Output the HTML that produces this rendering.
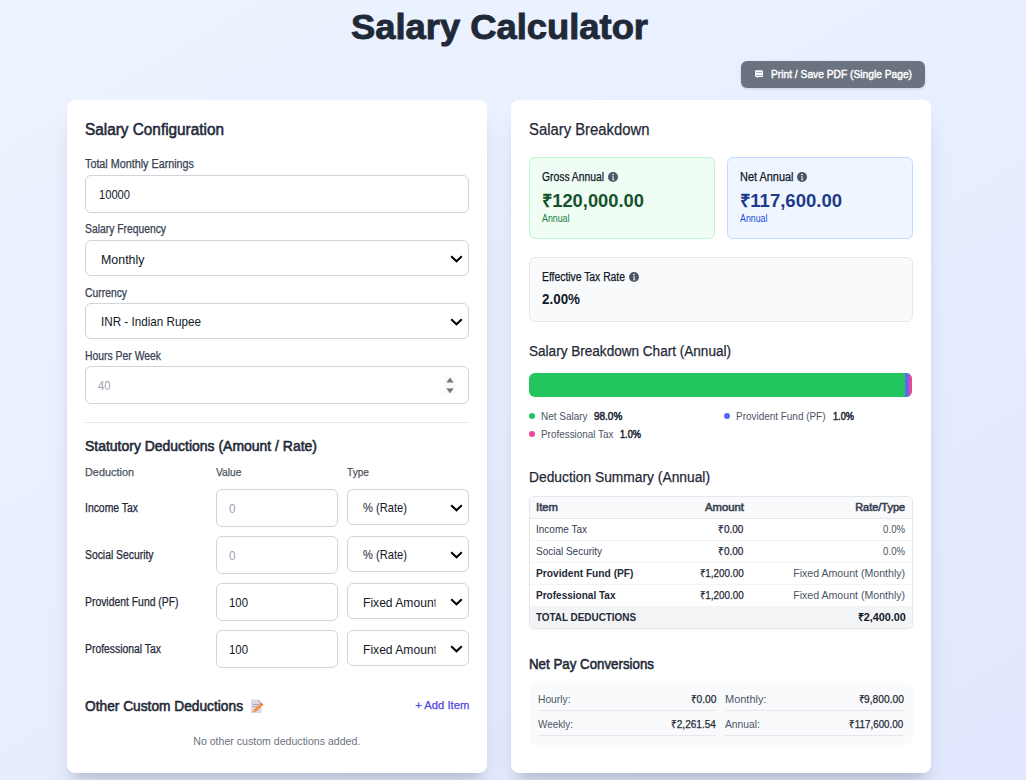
<!DOCTYPE html>
<html><head><meta charset="utf-8"><title>Salary Calculator</title>
<style>
*{box-sizing:border-box;margin:0;padding:0}
html,body{width:1026px;height:780px;overflow:hidden}
body{position:relative;background:linear-gradient(150deg,#edf4ff 0%,#e1e8ff 100%);font-family:"Liberation Sans",sans-serif}
.t{position:absolute;white-space:nowrap;font-family:"Liberation Sans",sans-serif}
.b{position:absolute}
.card{position:absolute;background:#fff;border-radius:8px;box-shadow:0 20px 25px -5px rgba(0,0,0,.12),0 8px 10px -6px rgba(0,0,0,.12)}
.inp{position:absolute;background:#fff;border:1px solid #d1d5db;border-radius:6px}
.chev{position:absolute;width:13px;height:8px}
.line{position:absolute;height:1px;background:#e5e7eb}
.info{position:absolute;width:10px;height:10px;border-radius:50%;background:#4b5563}
.info:before{content:"";position:absolute;left:4px;top:2px;width:2px;height:1.5px;background:#fff}
.info:after{content:"";position:absolute;left:4px;top:4.2px;width:2px;height:4px;background:#fff}
.dot{position:absolute;width:6px;height:6px;border-radius:50%}
</style></head><body>
<!-- button -->
<div class="b" style="left:741px;top:61px;width:184px;height:27px;background:#6b7280;border-radius:6px;box-shadow:0 1px 3px rgba(0,0,0,.12)"></div>
<svg class="b" style="left:754px;top:69px" width="10" height="10" viewBox="0 0 10 10"><rect x="1" y="1.2" width="8" height="6.8" rx="1.2" fill="#fff"/><rect x="1.8" y="3.1" width="6.4" height="0.8" fill="#9ca3af"/><rect x="1.8" y="5.9" width="6.4" height="0.9" fill="#9ca3af"/><path d="M2.6 8 L3.6 9.3 L4.2 8 Z" fill="#fff"/></svg>

<!-- cards -->
<div class="card" style="left:67px;top:100px;width:420px;height:673px"></div>
<div class="card" style="left:511px;top:100px;width:420px;height:673px"></div>

<!-- left card inputs -->
<div class="inp" style="left:85px;top:175px;width:384px;height:38px"></div>
<div class="inp" style="left:85px;top:240px;width:384px;height:36px"></div>
<div class="inp" style="left:85px;top:303px;width:384px;height:36px"></div>
<div class="inp" style="left:85px;top:366px;width:384px;height:38px"></div>
<svg class="chev" style="left:450px;top:255px" viewBox="0 0 13 8"><path d="M1.2 1.2 L6.5 6.3 L11.8 1.2" fill="none" stroke="#000" stroke-width="2"/></svg>
<svg class="chev" style="left:450px;top:318px" viewBox="0 0 13 8"><path d="M1.2 1.2 L6.5 6.3 L11.8 1.2" fill="none" stroke="#000" stroke-width="2"/></svg>
<div class="b" style="left:444px;top:376px;width:12px;height:18px;background:#fafafa"></div><svg class="b" style="left:446px;top:377px" width="8" height="17" viewBox="0 0 8 17"><path d="M0.8 5.3 L4 0.9 L7.2 5.3 Z" fill="#767676" stroke="#767676" stroke-width="0.5" stroke-linejoin="round"/><path d="M0.8 11.7 L4 16.1 L7.2 11.7 Z" fill="#767676" stroke="#767676" stroke-width="0.5" stroke-linejoin="round"/></svg>
<div class="line" style="left:85px;top:422px;width:384px"></div>

<!-- deduction rows -->
<div class="inp" style="left:216px;top:489px;width:122px;height:38px"></div>
<div class="inp" style="left:347px;top:489px;width:122px;height:36px"></div>
<div class="inp" style="left:216px;top:536px;width:122px;height:38px"></div>
<div class="inp" style="left:347px;top:536px;width:122px;height:36px"></div>
<div class="inp" style="left:216px;top:583px;width:122px;height:38px"></div>
<div class="inp" style="left:347px;top:583px;width:122px;height:36px"></div>
<div class="inp" style="left:216px;top:630px;width:122px;height:38px"></div>
<div class="inp" style="left:347px;top:630px;width:122px;height:36px"></div>
<svg class="chev" style="left:450px;top:504px" viewBox="0 0 13 8"><path d="M1.2 1.2 L6.5 6.3 L11.8 1.2" fill="none" stroke="#000" stroke-width="2"/></svg>
<svg class="chev" style="left:450px;top:551px" viewBox="0 0 13 8"><path d="M1.2 1.2 L6.5 6.3 L11.8 1.2" fill="none" stroke="#000" stroke-width="2"/></svg>
<svg class="chev" style="left:450px;top:598px" viewBox="0 0 13 8"><path d="M1.2 1.2 L6.5 6.3 L11.8 1.2" fill="none" stroke="#000" stroke-width="2"/></svg>
<svg class="chev" style="left:450px;top:645px" viewBox="0 0 13 8"><path d="M1.2 1.2 L6.5 6.3 L11.8 1.2" fill="none" stroke="#000" stroke-width="2"/></svg>

<!-- emoji memo -->
<svg class="b" style="left:250px;top:698px" width="14" height="16" viewBox="0 0 14 16">
<path d="M1 1.5 H8.5 L11.5 4.5 V15 H1 Z" fill="#dcd6e6"/>
<path d="M8.5 1.5 L11.5 4.5 H8.5 Z" fill="#b8b0c8"/>
<rect x="2.8" y="6" width="6" height="0.9" fill="#a8a2b6"/><rect x="2.8" y="8.2" width="5" height="0.9" fill="#a8a2b6"/>
<path d="M3 14.5 L4 11.6 L10.2 5.8 L12.3 7.8 L6 13.6 Z" fill="#f7913d"/>
<path d="M10.2 5.8 L11.3 4.8 L13.3 6.8 L12.3 7.8 Z" fill="#f2504b"/>
</svg>

<!-- right card: stat boxes -->
<div class="b" style="left:529px;top:157px;width:186px;height:82px;background:#f0fdf4;border:1px solid #bbf7d0;border-radius:6px"></div>
<div class="b" style="left:727px;top:157px;width:186px;height:82px;background:#eff6ff;border:1px solid #bfdbfe;border-radius:6px"></div>
<div class="b" style="left:529px;top:257px;width:384px;height:65px;background:#f9fafb;border:1px solid #e5e7eb;border-radius:6px"></div>
<svg class="b" style="left:608px;top:172px" width="10" height="10" viewBox="0 0 10 10"><circle cx="5" cy="5" r="5" fill="#4b5563"/><rect x="4.2" y="1.9" width="1.6" height="1.3" fill="#fff"/><path d="M4.2 4.3 H5.6 V7.4 H6.2 V8.3 H4.2 V7.4 H4.6 V5.1 H4.2 Z" fill="#fff"/></svg>
<svg class="b" style="left:797px;top:172px" width="10" height="10" viewBox="0 0 10 10"><circle cx="5" cy="5" r="5" fill="#4b5563"/><rect x="4.2" y="1.9" width="1.6" height="1.3" fill="#fff"/><path d="M4.2 4.3 H5.6 V7.4 H6.2 V8.3 H4.2 V7.4 H4.6 V5.1 H4.2 Z" fill="#fff"/></svg>
<svg class="b" style="left:629px;top:272px" width="10" height="10" viewBox="0 0 10 10"><circle cx="5" cy="5" r="5" fill="#4b5563"/><rect x="4.2" y="1.9" width="1.6" height="1.3" fill="#fff"/><path d="M4.2 4.3 H5.6 V7.4 H6.2 V8.3 H4.2 V7.4 H4.6 V5.1 H4.2 Z" fill="#fff"/></svg>

<!-- bar -->
<div class="b" style="left:529px;top:373px;width:383px;height:24px;border-radius:6px;overflow:hidden;background:#22c55e">
  <div class="b" style="left:376px;top:0;width:4px;height:24px;background:#6366f1"></div>
  <div class="b" style="left:380px;top:0;width:3px;height:24px;background:#ec4899"></div>
</div>
<div class="dot" style="left:529px;top:413px;background:#22c55e"></div>
<div class="dot" style="left:724px;top:413px;background:#6366f1"></div>
<div class="dot" style="left:529px;top:431px;background:#ec4899"></div>

<!-- table -->
<div class="b" style="left:529px;top:496px;width:384px;height:133px;border:1px solid #e5e7eb;border-radius:5px;overflow:hidden;background:#fff;box-shadow:0 1px 2px rgba(0,0,0,.04)">
  <div class="b" style="left:0;top:0;width:382px;height:21px;background:#f9fafb"></div>
  <div class="b" style="left:0;top:21px;width:382px;height:1px;background:#e5e7eb"></div>
  <div class="b" style="left:0;top:43px;width:382px;height:1px;background:#f3f4f6"></div>
  <div class="b" style="left:0;top:65px;width:382px;height:1px;background:#f3f4f6"></div>
  <div class="b" style="left:0;top:87px;width:382px;height:1px;background:#f3f4f6"></div>
  <div class="b" style="left:0;top:109px;width:382px;height:23px;background:#f3f4f6"></div>
</div>

<!-- conversions -->
<div class="b" style="left:529px;top:683px;width:384px;height:62px;background:#f9fafb;border-radius:7px"></div>
<div class="line" style="left:538px;top:710px;width:178px"></div>
<div class="line" style="left:538px;top:735px;width:178px"></div>
<div class="line" style="left:725px;top:710px;width:178px"></div>
<div class="line" style="left:725px;top:735px;width:178px"></div>

<div class="t" style="left:351.00px;top:9.40px;font-size:35px;line-height:35px;font-weight:700;color:#1f2937;transform:scaleX(1.0386);transform-origin:left top;-webkit-text-stroke:0.9px #1f2937">Salary Calculator</div>
<div class="t" style="left:771.00px;top:69.00px;font-size:11.5px;line-height:11.5px;font-weight:400;color:#ffffff;transform:scaleX(0.8895);transform-origin:left top;-webkit-text-stroke:0.45px #ffffff">Print / Save PDF (Single Page)</div>
<div class="t" style="left:85.00px;top:121.50px;font-size:16px;line-height:16px;font-weight:400;color:#1f2937;transform:scaleX(0.9588);transform-origin:left top;-webkit-text-stroke:0.55px #1f2937">Salary Configuration</div>
<div class="t" style="left:85.00px;top:158.00px;font-size:12px;line-height:12px;font-weight:400;color:#374151;transform:scaleX(0.8978);transform-origin:left top;-webkit-text-stroke:0.25px #374151">Total Monthly Earnings</div>
<div class="t" style="left:98.50px;top:188.00px;font-size:13.5px;line-height:13.5px;font-weight:400;color:#111827;transform:scaleX(0.8256);transform-origin:left top">10000</div>
<div class="t" style="left:85.00px;top:223.00px;font-size:12px;line-height:12px;font-weight:400;color:#374151;transform:scaleX(0.8613);transform-origin:left top;-webkit-text-stroke:0.25px #374151">Salary Frequency</div>
<div class="t" style="left:101.00px;top:252.50px;font-size:13.5px;line-height:13.5px;font-weight:400;color:#111827;transform:scaleX(0.9200);transform-origin:left top">Monthly</div>
<div class="t" style="left:85.00px;top:286.50px;font-size:12px;line-height:12px;font-weight:400;color:#374151;transform:scaleX(0.8626);transform-origin:left top;-webkit-text-stroke:0.25px #374151">Currency</div>
<div class="t" style="left:101.00px;top:315.00px;font-size:13.5px;line-height:13.5px;font-weight:400;color:#111827;transform:scaleX(0.8653);transform-origin:left top">INR - Indian Rupee</div>
<div class="t" style="left:85.00px;top:349.50px;font-size:12px;line-height:12px;font-weight:400;color:#374151;transform:scaleX(0.8655);transform-origin:left top;-webkit-text-stroke:0.25px #374151">Hours Per Week</div>
<div class="t" style="left:98.00px;top:379.00px;font-size:13.5px;line-height:13.5px;font-weight:400;color:#9ca3af;transform:scaleX(0.8316);transform-origin:left top">40</div>
<div class="t" style="left:85.00px;top:439.00px;font-size:14px;line-height:14px;font-weight:400;color:#1f2937;transform:scaleX(0.9971);transform-origin:left top;-webkit-text-stroke:0.55px #1f2937">Statutory Deductions (Amount / Rate)</div>
<div class="t" style="left:85.00px;top:467.00px;font-size:11.5px;line-height:11.5px;font-weight:400;color:#4b5563;transform:scaleX(0.9460);transform-origin:left top;-webkit-text-stroke:0.25px #4b5563">Deduction</div>
<div class="t" style="left:216.00px;top:467.00px;font-size:11.5px;line-height:11.5px;font-weight:400;color:#4b5563;transform:scaleX(0.8928);transform-origin:left top;-webkit-text-stroke:0.25px #4b5563">Value</div>
<div class="t" style="left:347.00px;top:467.00px;font-size:11.5px;line-height:11.5px;font-weight:400;color:#4b5563;transform:scaleX(0.8822);transform-origin:left top;-webkit-text-stroke:0.25px #4b5563">Type</div>
<div class="t" style="left:85.00px;top:501.50px;font-size:12px;line-height:12px;font-weight:400;color:#1f2937;transform:scaleX(0.8666);transform-origin:left top;-webkit-text-stroke:0.25px #1f2937">Income Tax</div>
<div class="t" style="left:229.00px;top:501.80px;font-size:13.5px;line-height:13.5px;font-weight:400;color:#9ca3af;transform:scaleX(0.8649);transform-origin:left top">0</div>
<div class="t" style="left:362.50px;top:500.50px;font-size:13.5px;line-height:13.5px;font-weight:400;color:#111827;transform:scaleX(0.8260);transform-origin:left top">% (Rate)</div>
<div class="t" style="left:85.00px;top:548.50px;font-size:12px;line-height:12px;font-weight:400;color:#1f2937;transform:scaleX(0.8630);transform-origin:left top;-webkit-text-stroke:0.25px #1f2937">Social Security</div>
<div class="t" style="left:229.00px;top:548.80px;font-size:13.5px;line-height:13.5px;font-weight:400;color:#9ca3af;transform:scaleX(0.8649);transform-origin:left top">0</div>
<div class="t" style="left:362.50px;top:547.50px;font-size:13.5px;line-height:13.5px;font-weight:400;color:#111827;transform:scaleX(0.8260);transform-origin:left top">% (Rate)</div>
<div class="t" style="left:85.00px;top:595.50px;font-size:12px;line-height:12px;font-weight:400;color:#1f2937;transform:scaleX(0.8654);transform-origin:left top;-webkit-text-stroke:0.25px #1f2937">Provident Fund (PF)</div>
<div class="t" style="left:229.00px;top:595.80px;font-size:13.5px;line-height:13.5px;font-weight:400;color:#111827;transform:scaleX(0.8433);transform-origin:left top">100</div>
<div class="t" style="left:362.50px;top:595.50px;font-size:13.5px;line-height:13.5px;font-weight:400;color:#111827;transform:scaleX(0.8965);transform-origin:left top;clip-path:inset(-5px 1.67px -5px 0)">Fixed Amount</div>
<div class="t" style="left:85.00px;top:642.50px;font-size:12px;line-height:12px;font-weight:400;color:#1f2937;transform:scaleX(0.8653);transform-origin:left top;-webkit-text-stroke:0.25px #1f2937">Professional Tax</div>
<div class="t" style="left:229.00px;top:642.80px;font-size:13.5px;line-height:13.5px;font-weight:400;color:#111827;transform:scaleX(0.8433);transform-origin:left top">100</div>
<div class="t" style="left:362.50px;top:642.50px;font-size:13.5px;line-height:13.5px;font-weight:400;color:#111827;transform:scaleX(0.8965);transform-origin:left top;clip-path:inset(-5px 1.67px -5px 0)">Fixed Amount</div>
<div class="t" style="left:85.00px;top:699.00px;font-size:14px;line-height:14px;font-weight:400;color:#1f2937;transform:scaleX(0.9809);transform-origin:left top;-webkit-text-stroke:0.55px #1f2937">Other Custom Deductions</div>
<div class="t" style="left:413.69px;top:700.00px;font-size:11.5px;line-height:11.5px;font-weight:400;color:#4f46e5;transform:scaleX(0.9763);transform-origin:right top;-webkit-text-stroke:0.25px #4f46e5">+ Add Item</div>
<div class="t" style="left:186.22px;top:736.00px;font-size:11.5px;line-height:11.5px;font-weight:400;color:#6b7280;transform:scaleX(0.9198);transform-origin:center top">No other custom deductions added.</div>
<div class="t" style="left:529.00px;top:121.50px;font-size:16px;line-height:16px;font-weight:400;color:#1f2937;transform:scaleX(0.9280);transform-origin:left top;-webkit-text-stroke:0.25px #1f2937">Salary Breakdown</div>
<div class="t" style="left:542.00px;top:171.00px;font-size:12px;line-height:12px;font-weight:400;color:#111827;transform:scaleX(0.8606);transform-origin:left top;-webkit-text-stroke:0.25px #111827">Gross Annual</div>
<div class="t" style="left:542.00px;top:191.50px;font-size:18px;line-height:18px;font-weight:700;color:#14532d;transform:scaleX(1.0190);transform-origin:left top">₹120,000.00</div>
<div class="t" style="left:542.00px;top:214.00px;font-size:10px;line-height:10px;font-weight:400;color:#15803d;transform:scaleX(0.8831);transform-origin:left top">Annual</div>
<div class="t" style="left:740.00px;top:171.00px;font-size:12px;line-height:12px;font-weight:400;color:#111827;transform:scaleX(0.9111);transform-origin:left top;-webkit-text-stroke:0.25px #111827">Net Annual</div>
<div class="t" style="left:740.00px;top:191.50px;font-size:18px;line-height:18px;font-weight:700;color:#1e3a8a;transform:scaleX(1.0292);transform-origin:left top">₹117,600.00</div>
<div class="t" style="left:740.00px;top:214.00px;font-size:10px;line-height:10px;font-weight:400;color:#1d4ed8;transform:scaleX(0.8831);transform-origin:left top">Annual</div>
<div class="t" style="left:542.00px;top:271.00px;font-size:12px;line-height:12px;font-weight:400;color:#111827;transform:scaleX(0.8621);transform-origin:left top;-webkit-text-stroke:0.25px #111827">Effective Tax Rate</div>
<div class="t" style="left:542.00px;top:291.50px;font-size:14px;line-height:14px;font-weight:700;color:#111827;transform:scaleX(0.9571);transform-origin:left top">2.00%</div>
<div class="t" style="left:529.00px;top:344.00px;font-size:14px;line-height:14px;font-weight:400;color:#1f2937;transform:scaleX(0.9686);transform-origin:left top;-webkit-text-stroke:0.25px #1f2937">Salary Breakdown Chart (Annual)</div>
<div class="t" style="left:541.00px;top:411.00px;font-size:11px;line-height:11px;font-weight:400;color:#4b5563;transform:scaleX(0.9054);transform-origin:left top">Net Salary</div>
<div class="t" style="left:594.00px;top:411.00px;font-size:11px;line-height:11px;font-weight:400;color:#1f2937;transform:scaleX(0.9070);transform-origin:left top;-webkit-text-stroke:0.55px #1f2937">98.0%</div>
<div class="t" style="left:736.00px;top:411.00px;font-size:11px;line-height:11px;font-weight:400;color:#4b5563;transform:scaleX(0.9036);transform-origin:left top">Provident Fund (PF)</div>
<div class="t" style="left:832.50px;top:411.00px;font-size:11px;line-height:11px;font-weight:400;color:#1f2937;transform:scaleX(0.8374);transform-origin:left top;-webkit-text-stroke:0.55px #1f2937">1.0%</div>
<div class="t" style="left:541.00px;top:429.00px;font-size:11px;line-height:11px;font-weight:400;color:#4b5563;transform:scaleX(0.9004);transform-origin:left top">Professional Tax</div>
<div class="t" style="left:620.00px;top:429.00px;font-size:11px;line-height:11px;font-weight:400;color:#1f2937;transform:scaleX(0.8374);transform-origin:left top;-webkit-text-stroke:0.55px #1f2937">1.0%</div>
<div class="t" style="left:529.00px;top:470.00px;font-size:14px;line-height:14px;font-weight:400;color:#1f2937;transform:scaleX(0.9856);transform-origin:left top;-webkit-text-stroke:0.25px #1f2937">Deduction Summary (Annual)</div>
<div class="t" style="left:536.00px;top:502.00px;font-size:11px;line-height:11px;font-weight:400;color:#374151;transform:scaleX(1.0277);transform-origin:left top;-webkit-text-stroke:0.55px #374151">Item</div>
<div class="t" style="left:705.58px;top:502.00px;font-size:11px;line-height:11px;font-weight:400;color:#374151;transform:scaleX(1.0284);transform-origin:right top;-webkit-text-stroke:0.55px #374151">Amount</div>
<div class="t" style="left:855.36px;top:502.00px;font-size:11px;line-height:11px;font-weight:400;color:#374151;transform:scaleX(0.9972);transform-origin:right top;-webkit-text-stroke:0.55px #374151">Rate/Type</div>
<div class="t" style="left:536.00px;top:524.20px;font-size:11px;line-height:11px;font-weight:400;color:#374151;transform:scaleX(0.9097);transform-origin:left top">Income Tax</div>
<div class="t" style="left:716.08px;top:524.20px;font-size:11px;line-height:11px;font-weight:400;color:#1f2937;transform:scaleX(0.9117);transform-origin:right top;-webkit-text-stroke:0.25px #1f2937">₹0.00</div>
<div class="t" style="left:880.42px;top:524.20px;font-size:11px;line-height:11px;font-weight:400;color:#4b5563;transform:scaleX(0.8773);transform-origin:right top">0.0%</div>
<div class="t" style="left:536.00px;top:546.20px;font-size:11px;line-height:11px;font-weight:400;color:#374151;transform:scaleX(0.9070);transform-origin:left top">Social Security</div>
<div class="t" style="left:716.08px;top:546.20px;font-size:11px;line-height:11px;font-weight:400;color:#1f2937;transform:scaleX(0.9117);transform-origin:right top;-webkit-text-stroke:0.25px #1f2937">₹0.00</div>
<div class="t" style="left:880.42px;top:546.20px;font-size:11px;line-height:11px;font-weight:400;color:#4b5563;transform:scaleX(0.8773);transform-origin:right top">0.0%</div>
<div class="t" style="left:536.00px;top:568.20px;font-size:11px;line-height:11px;font-weight:700;color:#1f2937;transform:scaleX(0.9276);transform-origin:left top">Provident Fund (PF)</div>
<div class="t" style="left:694.67px;top:568.20px;font-size:11px;line-height:11px;font-weight:400;color:#1f2937;transform:scaleX(0.9011);transform-origin:right top;-webkit-text-stroke:0.25px #1f2937">₹1,200.00</div>
<div class="t" style="left:789.34px;top:568.20px;font-size:11px;line-height:11px;font-weight:400;color:#4b5563;transform:scaleX(0.9642);transform-origin:right top">Fixed Amount (Monthly)</div>
<div class="t" style="left:536.00px;top:590.20px;font-size:11px;line-height:11px;font-weight:700;color:#1f2937;transform:scaleX(0.9115);transform-origin:left top">Professional Tax</div>
<div class="t" style="left:694.67px;top:590.20px;font-size:11px;line-height:11px;font-weight:400;color:#1f2937;transform:scaleX(0.9011);transform-origin:right top;-webkit-text-stroke:0.25px #1f2937">₹1,200.00</div>
<div class="t" style="left:789.34px;top:590.20px;font-size:11px;line-height:11px;font-weight:400;color:#4b5563;transform:scaleX(0.9642);transform-origin:right top">Fixed Amount (Monthly)</div>
<div class="t" style="left:536.00px;top:612.20px;font-size:11px;line-height:11px;font-weight:700;color:#1f2937;transform:scaleX(0.8990);transform-origin:left top">TOTAL DEDUCTIONS</div>
<div class="t" style="left:856.67px;top:612.20px;font-size:11px;line-height:11px;font-weight:700;color:#111827;transform:scaleX(0.9830);transform-origin:right top">₹2,400.00</div>
<div class="t" style="left:529.00px;top:657.00px;font-size:14px;line-height:14px;font-weight:400;color:#1f2937;transform:scaleX(0.9505);transform-origin:left top;-webkit-text-stroke:0.55px #1f2937">Net Pay Conversions</div>
<div class="t" style="left:538.00px;top:693.80px;font-size:11px;line-height:11px;font-weight:400;color:#4b5563;transform:scaleX(0.9327);transform-origin:left top">Hourly:</div>
<div class="t" style="left:688.58px;top:693.80px;font-size:11px;line-height:11px;font-weight:400;color:#1f2937;transform:scaleX(0.9299);transform-origin:right top;-webkit-text-stroke:0.25px #1f2937">₹0.00</div>
<div class="t" style="left:538.00px;top:718.80px;font-size:11px;line-height:11px;font-weight:400;color:#4b5563;transform:scaleX(0.8992);transform-origin:left top">Weekly:</div>
<div class="t" style="left:667.17px;top:718.80px;font-size:11px;line-height:11px;font-weight:400;color:#1f2937;transform:scaleX(0.9114);transform-origin:right top;-webkit-text-stroke:0.25px #1f2937">₹2,261.54</div>
<div class="t" style="left:725.00px;top:693.80px;font-size:11px;line-height:11px;font-weight:400;color:#4b5563;transform:scaleX(0.9981);transform-origin:left top">Monthly:</div>
<div class="t" style="left:854.67px;top:693.80px;font-size:11px;line-height:11px;font-weight:400;color:#1f2937;transform:scaleX(0.9277);transform-origin:right top;-webkit-text-stroke:0.25px #1f2937">₹9,800.00</div>
<div class="t" style="left:725.00px;top:718.80px;font-size:11px;line-height:11px;font-weight:400;color:#4b5563;transform:scaleX(0.9327);transform-origin:left top">Annual:</div>
<div class="t" style="left:843.25px;top:718.80px;font-size:11px;line-height:11px;font-weight:400;color:#1f2937;transform:scaleX(0.8929);transform-origin:right top;-webkit-text-stroke:0.25px #1f2937">₹117,600.00</div>
</body></html>
